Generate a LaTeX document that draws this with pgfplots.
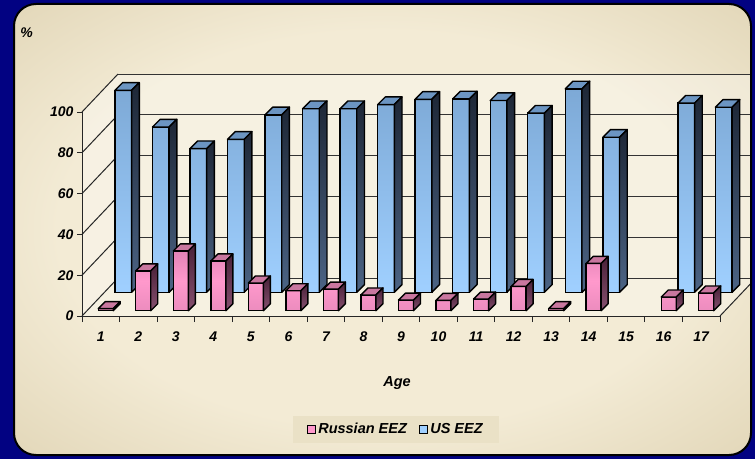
\documentclass[border=0pt]{standalone}
\usepackage{fontspec}
\setmainfont{Liberation Sans}
\usepackage{pgfplots}
\usepackage{pgfplotstable}
\pgfplotsset{compat=1.18}

\definecolor{navybg}{RGB}{2,2,130}
\definecolor{panelIn}{HTML}{F3EBD5}
\definecolor{panelOut}{HTML}{D1C29B}
\definecolor{usFrontTop}{HTML}{7DA9D6}
\definecolor{usFrontBot}{HTML}{A0D0FF}
\definecolor{usTop}{HTML}{6C95C2}
\definecolor{usSideA}{HTML}{1E2736}
\definecolor{usSideB}{HTML}{4C6485}
\definecolor{rusFrontTop}{HTML}{E283B6}
\definecolor{rusFrontMid}{HTML}{FF99CC}
\definecolor{rusFrontBot}{HTML}{EC8CBE}
\definecolor{rusTop}{HTML}{C9779F}
\definecolor{rusSideA}{HTML}{4A2139}
\definecolor{rusSideB}{HTML}{86506F}
\definecolor{legfill}{HTML}{EAE1C6}

\pgfdeclareradialshading{panelshade}{\pgfpoint{0bp}{0bp}}{%
  color(0bp)=(panelIn); color(22bp)=(panelIn); color(50bp)=(panelOut)}

% age-class shares (%)
\pgfplotstableread{
age rus us
1   1.0  99.0
2   19.5 81.0
3   29.3 70.4
4   24.4 75.0
5   13.6 87.0
6   9.8  90.0
7   10.6 90.0
8   7.7  92.0
9   5.2  94.6
10  5.1  94.8
11  5.7  94.0
12  11.9 87.8
13  1.0  99.7
14  23.2 76.0
15  nan  nan
16  6.7  92.7
17  8.7  90.7
}\agedata

% top and side faces of the 3D bars, drawn at each bar top
\pgfdeclareplotmark{usbox}{%
  \pgfmathsetlengthmacro\hh{\hv*2.04pt}%
  \path[fill=usTop, draw=black, line width=1.4pt, line join=round]
    (-8.35pt,0pt) -- (8.35pt,0pt) -- (16.05pt,7.7pt) -- (-0.65pt,7.7pt) -- cycle;
  \path[top color=usSideA, bottom color=usSideB, draw=black, line width=1.4pt, line join=round]
    (8.35pt,0pt) -- (16.05pt,7.7pt) -- (16.05pt,{7.7pt-\hh}) -- (8.35pt,{-\hh}) -- cycle;
}
\pgfdeclareplotmark{rusbox}{%
  \pgfmathsetlengthmacro\hh{\hv*2.04pt}%
  \path[fill=rusTop, draw=black, line width=1.4pt, line join=round]
    (-7.5pt,0pt) -- (7.5pt,0pt) -- (14.5pt,7pt) -- (-0.5pt,7pt) -- cycle;
  \path[top color=rusSideA, bottom color=rusSideB, draw=black, line width=1.4pt, line join=round]
    (7.5pt,0pt) -- (14.5pt,7pt) -- (14.5pt,{7pt-\hh}) -- (7.5pt,{-\hh}) -- cycle;
}

\pgfplotsset{
  lbl/.style={font=\fontsize{14}{16}\selectfont\bfseries\itshape},
  layer3d/.style={scale only axis, anchor=south west, width=638pt, height=204pt,
    xmin=0.5, xmax=17.5, ymin=0, ymax=100},
  barfaces/.style={scatter, only marks, forget plot,
    scatter/@pre marker code/.code={\scope},
    scatter/@post marker code/.code={\endscope}},
}

\begin{document}
\begin{tikzpicture}
\fill[navybg] (0pt,0pt) rectangle (755pt,459pt);
\shade[shading=panelshade, rounded corners=22pt] (14pt,4pt) rectangle (751pt,455pt);
\begin{scope}
\clip[rounded corners=22pt] (14pt,4pt) rectangle (751pt,455pt);
% walls and floor
\fill[white, opacity=0.3] (118pt,181pt) rectangle (756pt,385pt);
\fill[white, opacity=0.35] (82pt,143pt) -- (118pt,181pt) -- (118pt,385pt) -- (82pt,347pt) -- cycle;
\fill[white, opacity=0.3] (82pt,143pt) -- (720pt,143pt) -- (756pt,181pt) -- (118pt,181pt) -- cycle;
\fill[legfill] (293pt,16pt) rectangle (499pt,43pt);

% front frame: ticks, labels, side-wall lines
\begin{axis}[layer3d, at={(82pt,143pt)},
  axis lines*=left, axis line style={-, black!85, line width=1pt},
  tick pos=left, tick align=outside,
  xtick={1,...,17}, minor xtick={0.5,1.5,...,17.5},
  ytick={0,20,...,100},
  major tick length=5pt, minor tick length=6pt,
  major x tick style={draw=none},
  minor x tick style={black!85, line width=1pt},
  y tick style={black!85, line width=1pt},
  ticklabel style={lbl},
  xticklabel style={yshift=-7pt},
  /pgf/number format/assume math mode=true,
  clip=false]
\addplot[draw=none, forget plot] coordinates {(1,0)};
\draw[black!85, line width=1pt] (axis cs:0.5,0) -- ++(36pt,38pt);
\draw[black!85, line width=1pt] (axis cs:0.5,20) -- ++(36pt,38pt);
\draw[black!85, line width=1pt] (axis cs:0.5,40) -- ++(36pt,38pt);
\draw[black!85, line width=1pt] (axis cs:0.5,60) -- ++(36pt,38pt);
\draw[black!85, line width=1pt] (axis cs:0.5,80) -- ++(36pt,38pt);
\draw[black!85, line width=1pt] (axis cs:0.5,100) -- ++(36pt,38pt);
\draw[black!85, line width=1pt] (axis cs:17.5,0) -- ++(36pt,38pt);
\end{axis}

% back wall grid
\begin{axis}[layer3d, at={(118pt,181pt)},
  axis line style={draw=none},
  xtick=\empty, ytick={0,20,...,100}, yticklabels={},
  major tick length=0pt, ymajorgrids,
  grid style={black!80, line width=1pt}]
\addplot[draw=none, forget plot] coordinates {(1,0)};
\end{axis}

% US EEZ (back row)
\begin{axis}[layer3d, at={(104.5pt,166.7pt)}, hide axis, clip=false]
\addplot[ybar, bar width=16.7pt, draw=black, line width=1.4pt,
  top color=usFrontTop, bottom color=usFrontBot, forget plot]
  table[x=age, y=us] {\agedata};
\addplot[barfaces, mark=usbox, visualization depends on={\thisrow{us} \as \hv}]
  table[x=age, y=us] {\agedata};
\end{axis}

% Russian EEZ (front row) + legend
\begin{axis}[layer3d, at={(87pt,148.3pt)}, hide axis, clip=false,
  legend columns=2,
  legend style={at={(0.484,-0.582)}, anchor=center, draw=none, fill=none,
    font=\fontsize{14.5}{16}\selectfont\bfseries\itshape,
    /tikz/every even column/.append style={column sep=10pt}}]
\addplot[ybar, bar width=15pt, draw=black, line width=1.4pt,
  top color=rusFrontTop, bottom color=rusFrontBot, middle color=rusFrontMid, forget plot]
  table[x=age, y=rus] {\agedata};
\addplot[barfaces, mark=rusbox, visualization depends on={\thisrow{rus} \as \hv}]
  table[x=age, y=rus] {\agedata};
\addlegendimage{legend image code/.code={\draw[fill=rusFrontMid, draw=black, line width=1.4pt] (0pt,-4pt) rectangle (8pt,4pt);}}
\addlegendentry{Russian EEZ}
\addlegendimage{legend image code/.code={\draw[fill=usFrontBot, draw=black, line width=1.4pt] (0pt,-4pt) rectangle (8pt,4pt);}}
\addlegendentry{US EEZ}
\end{axis}

\node[font=\fontsize{14}{16}\selectfont\bfseries\itshape] at (26.5pt,426pt) {\%};
\node[font=\fontsize{14.5}{16}\selectfont\bfseries\itshape] at (397pt,76pt) {Age};
\end{scope}
\draw[black, line width=2pt, rounded corners=22pt] (14pt,4pt) rectangle (751pt,455pt);
\pgfresetboundingbox
\path[use as bounding box] (0pt,0pt) rectangle (755pt,459pt);
\end{tikzpicture}
\end{document}
